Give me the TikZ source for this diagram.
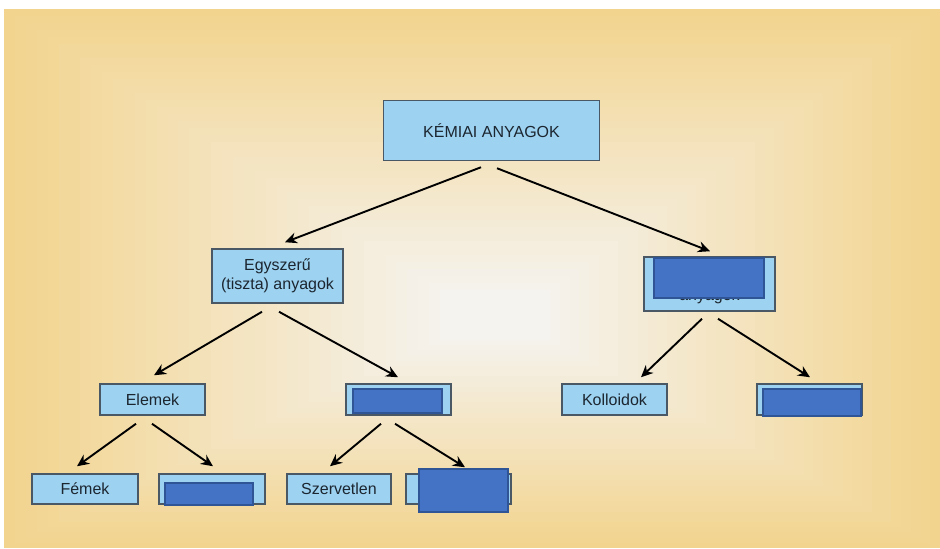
\documentclass[tikz,border=0pt]{standalone}
\usepackage{fontspec}
\setmainfont{Liberation Sans}
\usetikzlibrary{arrows.meta,calc}
\definecolor{yel}{HTML}{F2D48E}
\definecolor{wht}{HTML}{F5F3EF}
\definecolor{boxfill}{HTML}{9DD2F0}
\definecolor{boxline}{HTML}{4A5866}
\definecolor{ovfill}{HTML}{4472C4}
\definecolor{ovline}{HTML}{2F5597}
\definecolor{txt}{HTML}{1C2630}
\tikzset{
  lbox/.style={draw=boxline, line width=1.5pt, fill=boxfill, inner sep=0pt,
    text=txt, font=\fontsize{16}{19}\selectfont, align=center},
  ovbox/.style={draw=ovline, line width=2.6pt, fill=ovfill, inner sep=0pt},
  arr/.style={draw=black, line width=1.9pt, -{Stealth[length=12pt,width=11pt]}}
}
\begin{document}
\begin{tikzpicture}[x=1pt,y=-1pt]
\useasboundingbox (0,0) rectangle (940,549);
\fill[white] (0,0) rectangle (940,549);
% rectangular gradient background
\foreach \i in {0,...,40}{
  \pgfmathsetmacro\t{\i/40}
  \pgfmathtruncatemacro\p{100*\t}
  \fill[wht!\p!yel] ({4+\t*(440-4)},{9+\t*(290-9)}) rectangle ({940-\t*(940-550)},{548-\t*(548-340)});
}
% nodes
\node[lbox, minimum width=216pt, minimum height=60pt] (top) at (491.5,130.5) {KÉMIAI ANYAGOK};
\node[lbox, minimum width=131pt, minimum height=54pt] (egy) at (277.5,276) {Egyszerű\\(tiszta) anyagok};
\node[lbox, minimum width=131pt, minimum height=54pt] (ossz) at (709.5,284) {Összetett\\[3pt]anyagok};
\node[lbox, minimum width=105pt, minimum height=31pt] (elem) at (152.5,399.5) {Elemek};
\node[lbox, minimum width=105pt, minimum height=31pt] (vegy) at (398.5,399.5) {};
\node[lbox, minimum width=105pt, minimum height=31pt] (koll) at (614.5,399.5) {Kolloidok};
\node[lbox, minimum width=105pt, minimum height=31pt] (keve) at (809.5,399.5) {};
\node[lbox, minimum width=106pt, minimum height=30pt] (fem) at (85,489) {Fémek};
\node[lbox, minimum width=106pt, minimum height=30pt] (nfem) at (212,489) {};
\node[lbox, minimum width=104pt, minimum height=30pt] (szerv) at (339,489) {Szervetlen};
\node[lbox, minimum width=105pt, minimum height=30pt] (szerves) at (458.5,489) {};
% overlays
\node[ovbox, minimum width=110pt, minimum height=40pt] (ov1) at (709,278) {};
\node[ovbox, minimum width=89pt, minimum height=24pt] (ov2) at (397.5,401) {};
\node[ovbox, minimum width=98pt, minimum height=27pt] (ov3) at (812,402.5) {};
\node[ovbox, minimum width=88pt, minimum height=22pt] (ov4) at (209,494) {};
\node[ovbox, minimum width=89pt, minimum height=43pt] (ov5) at (463.5,490.5) {};
% connectors
\draw[arr] ($(top.south)+(-10.5,6)$) -- ($(egy.north)+(7.5,-6)$);
\draw[arr] ($(top.south)+(5.5,7)$) -- ($(ossz.north)+(0.5,-5)$);
\draw[arr] ($(egy.south)+(-15.5,8)$) -- ($(elem.north)+(1.5,-8)$);
\draw[arr] ($(egy.south)+(1.5,8)$) -- ($(vegy.north)+(-0.5,-6)$);
\draw[arr] ($(ossz.south)+(-7.5,7)$) -- ($(koll.north)+(26.5,-6)$);
\draw[arr] ($(ossz.south)+(8.5,7)$) -- ($(keve.north)+(0.5,-6)$);
\draw[arr] ($(elem.south)+(-16.5,8)$) -- ($(fem.north)+(-8,-7)$);
\draw[arr] ($(elem.south)+(-0.5,8)$) -- ($(nfem.north)+(1,-7)$);
\draw[arr] ($(vegy.south)+(-17.5,8)$) -- ($(szerv.north)+(-9,-7)$);
\draw[arr] ($(vegy.south)+(-3.5,8)$) -- ($(szerves.north)+(6.5,-6)$);
\end{tikzpicture}
\end{document}
